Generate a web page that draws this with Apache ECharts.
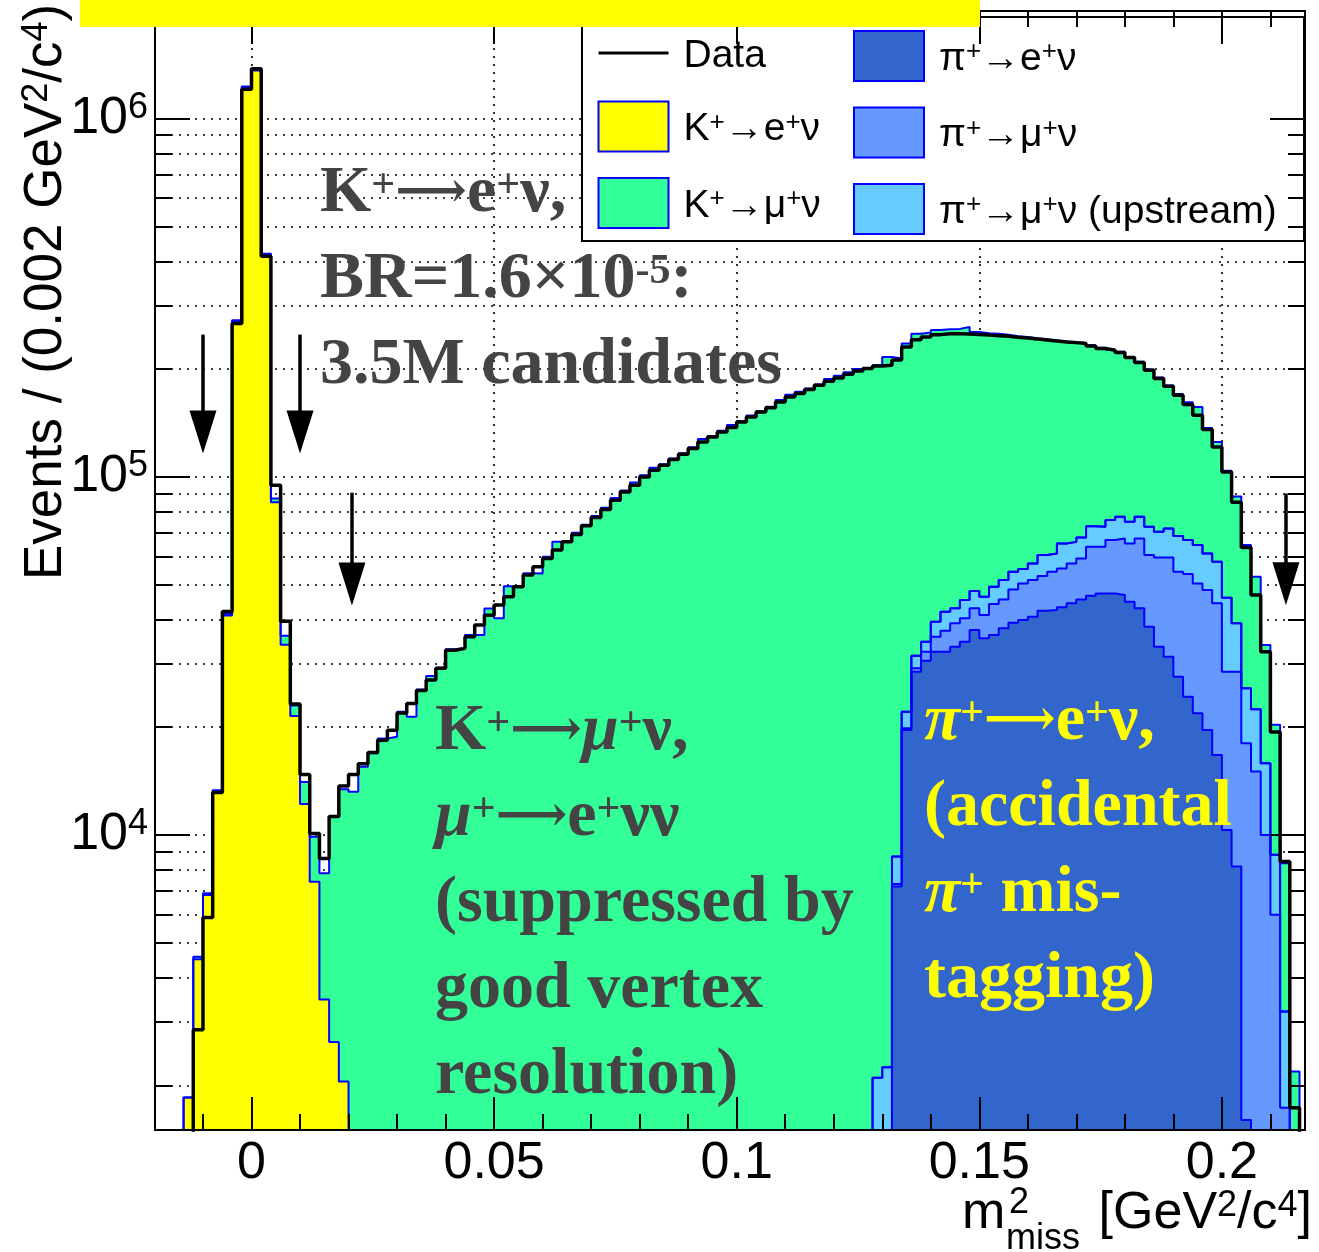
<!DOCTYPE html>
<html>
<head>
<meta charset="utf-8">
<title>m2 miss</title>
<script src="https://cdn.jsdelivr.net/npm/echarts@6/dist/echarts.min.js"></script>
<style>
html, body { margin: 0; padding: 0; background: #fff; }
#chart { width: 1319px; height: 1252px; }
</style>
</head>
<body>
<div id="chart"></div>
<script>
// binning: 115 bins of 0.002, first low edge at -0.014
const binStart = -0.014;
const binWidth = 0.002;

// axis ticks
const xMajorTicks = [0, 0.05, 0.1, 0.15, 0.2];
const xMinorTicks = [-0.01, 0.01, 0.02, 0.03, 0.04, 0.06, 0.07, 0.08, 0.09, 0.11, 0.12, 0.13, 0.14, 0.16, 0.17, 0.18, 0.19, 0.21];
const yMajorTicks = [1e4, 1e5, 1e6];
const yMinorTicks = [2000, 3000, 4000, 5000, 6000, 7000, 8000, 9000,
  20000, 30000, 40000, 50000, 60000, 70000, 80000, 90000,
  200000, 300000, 400000, 500000, 600000, 700000, 800000, 900000];

// events per bin
const dataCounts = [
  0, 2860, 5880, 13130, 42100, 268000, 1210000, 1380000, 413000, 94800,
  39500, 23200, 14750, 10100, 8590, 11260, 13700, 14750, 15800, 17000,
  18400, 19600, 21900, 23300, 25300, 27100, 29200, 32800, 33200, 35800,
  38600, 41100, 43900, 46300, 49300, 53200, 56100, 59200, 62500, 65900,
  69000, 73000, 77000, 81100, 86100, 90800, 94800, 100000, 104400, 107800,
  111800, 115700, 120000, 125200, 129300, 133500, 137300, 142400, 147000, 151800,
  156100, 161900, 167200, 170900, 175400, 180300, 184900, 188900, 193400, 197600,
  200700, 204000, 205000, 212000, 230500, 241700, 246000, 249600, 251200, 251000,
  250600, 250000, 248900, 247900, 246900, 245300, 244200, 242700, 241100, 239600,
  238100, 237100, 235600, 232000, 228200, 225700, 222400, 215300, 208500, 198500,
  188200, 179100, 169000, 159200, 148700, 135700, 121200, 103200, 84900, 63500,
  46800, 32500, 19400, 8430, 1730
];
const kEnu = [
  1850, 4500, 6800, 13200, 41000, 272000, 1225000, 1365000, 417000, 85000,
  34000, 21500, 12200, 7400, 3470, 2640, 2050, 0, 0, 0,
  0, 0, 0, 0, 0, 0, 0, 0, 0, 0,
  0, 0, 0, 0, 0, 0, 0, 0, 0, 0,
  0, 0, 0, 0, 0, 0, 0, 0, 0, 0,
  0, 0, 0, 0, 0, 0, 0, 0, 0, 0,
  0, 0, 0, 0, 0, 0, 0, 0, 0, 0,
  0, 0, 0, 0, 0, 0, 0, 0, 0, 0,
  0, 0, 0, 0, 0, 0, 0, 0, 0, 0,
  0, 0, 0, 0, 0, 0, 0, 0, 0, 0,
  0, 0, 0, 0, 0, 0, 0, 0, 0, 0,
  0, 0, 0, 0, 0
];
const kMunu = [
  0, 70, 80, 140, 400, 2000, 5000, 5000, 3000, 2000,
  2000, 1500, 1850, 2480, 4350, 8620, 11370, 13200, 15500, 16900,
  18600, 18800, 22100, 21400, 25500, 27800, 29300, 33000, 33300, 36200,
  36200, 42900, 40300, 49500, 49600, 53800, 53700, 59800, 65900, 66300,
  69800, 73500, 77800, 82000, 87300, 91600, 96500, 101000, 106000, 108500,
  112500, 116500, 121000, 127500, 130000, 134500, 139500, 143000, 148500, 152500,
  157000, 164000, 169500, 173000, 176500, 181000, 187500, 191500, 196000, 200000,
  201500, 202900, 213960, 205300, 213500, 219320, 218360, 217610, 216490, 216060,
  216810, 206010, 205740, 201670, 198000, 192680, 190730, 186670, 182030, 179360,
  173830, 172160, 168770, 160150, 156970, 150770, 146150, 141110, 132150, 126970,
  119260, 108220, 102170, 94900, 92320, 75860, 67280, 58040, 49110, 38820,
  30160, 18040, 11500, 5127, 1186
];
const piEnu = [
  0, 0, 0, 0, 0, 0, 0, 0, 0, 0,
  0, 0, 0, 0, 0, 0, 0, 0, 0, 0,
  0, 0, 0, 0, 0, 0, 0, 0, 0, 0,
  0, 0, 0, 0, 0, 0, 0, 0, 0, 0,
  0, 0, 0, 0, 0, 0, 0, 0, 0, 0,
  0, 0, 0, 0, 0, 0, 0, 0, 0, 0,
  0, 0, 0, 0, 0, 0, 0, 0, 0, 0,
  0, 0, 0, 7180, 19630, 28570, 30660, 32490, 32490, 33550,
  34640, 37350, 35410, 36170, 37760, 39140, 39830, 40690, 42280, 42470,
  43210, 44340, 45490, 46600, 47280, 47280, 46770, 44790, 42940, 38150,
  33550, 31470, 27670, 24330, 21870, 19630, 16730, 10330, 8163, 1600,
  0, 0, 0, 0, 0
];
const piMunu = [
  0, 0, 0, 0, 0, 0, 0, 0, 0, 0,
  0, 0, 0, 0, 0, 0, 0, 0, 0, 0,
  0, 0, 0, 0, 0, 0, 0, 0, 0, 0,
  0, 0, 0, 0, 0, 0, 0, 0, 0, 0,
  0, 0, 0, 0, 0, 0, 0, 0, 0, 0,
  0, 0, 0, 0, 0, 0, 0, 0, 0, 0,
  0, 0, 0, 0, 0, 0, 0, 0, 0, 0,
  0, 0, 0, 120, 230, 630, 1830, 3280, 4690, 5440,
  5620, 5590, 5720, 7970, 7730, 9370, 10590, 10810, 10560, 11850,
  12290, 12990, 13710, 17160, 16480, 19320, 20560, 20380, 24390, 22320,
  26030, 28110, 26650, 29190, 28550, 28670, 27610, 18240, 20410, 16430,
  15030, 10000, 5985, 1730, 0
];
const piMunuUp = [
  0, 0, 0, 0, 0, 0, 0, 0, 0, 0,
  0, 0, 0, 0, 0, 0, 0, 0, 0, 0,
  0, 0, 0, 0, 0, 0, 0, 0, 0, 0,
  0, 0, 0, 0, 0, 0, 0, 0, 0, 0,
  0, 0, 0, 0, 0, 0, 0, 0, 0, 0,
  0, 0, 0, 0, 0, 0, 0, 0, 0, 0,
  0, 0, 0, 0, 0, 0, 0, 0, 0, 0,
  0, 2100, 2244, 1406, 2240, 2480, 2150, 3620, 4830, 3950,
  5030, 5050, 5130, 5190, 6010, 5810, 4850, 5830, 7630, 6820,
  9670, 8510, 8530, 9090, 8770, 9130, 10020, 9720, 10020, 12060,
  10660, 12200, 14010, 13080, 14060, 12840, 13580, 17390, 10420, 7650,
  7410, 5860, 2815, 1483, 1000
];

// selection cut arrows: [x, top, tip]
const cutArrows = [
  [-0.01, 249700, 116200],
  [0.01, 249700, 116200],
  [0.0207, 90300, 43740],
  [0.2132, 89900, 43800]
];

// colours
const outline = '#0000ff';
const colKenu = '#ffff00';
const colKmunu = '#33ff99';
const colPienu = '#3366cc';
const colPimunu = '#6699ff';
const colPimunuUp = '#66ccff';

const xMin = -0.01989;
const xMax = 0.21713;
const yMin = 1500;
const yMax = 2e6;
const floorValue = 100; // below the axis, for empty bins

// THStack: each layer is drawn as the running sum
function stackSum(...layers) {
  return layers[0].map((_, i) => layers.reduce((s, l) => s + l[i], 0));
}
function stepPoints(counts) {
  const n = counts.length;
  const pts = [[binStart, floorValue]];
  counts.forEach((c, i) => pts.push([binStart + i * binWidth, c > 0 ? c : floorValue]));
  pts.push([binStart + n * binWidth, counts[n - 1] > 0 ? counts[n - 1] : floorValue]);
  pts.push([binStart + n * binWidth, floorValue]);
  return pts;
}

const topPiEnu = piEnu;
const topPiMunu = stackSum(piEnu, piMunu);
const topPiUp = stackSum(piEnu, piMunu, piMunuUp);
const topKenu = stackSum(piEnu, piMunu, piMunuUp, kEnu);
const topKmunu = stackSum(piEnu, piMunu, piMunuUp, kEnu, kMunu);

function layer(name, color, counts) {
  return {
    name: name,
    type: 'line',
    step: 'end',
    data: stepPoints(counts),
    symbol: 'none',
    showSymbol: false,
    silent: true,
    color: color,
    lineStyle: { color: outline, width: 2 },
    areaStyle: { color: color, opacity: 1 },
    emphasis: { disabled: true },
    z: 2
  };
}

const sansFont = "'Liberation Sans', Arial, sans-serif";
const serifFont = "'Liberation Serif', 'DejaVu Serif', serif";

const legendRich = {
  sup: { fontSize: 26, fontFamily: sansFont, color: '#000', verticalAlign: 'top' }
};
const legendName = name => name.replace(/\+/g, '{sup|+}');
const legendCommon = {
  orient: 'vertical',
  top: 30,
  itemWidth: 70,
  itemHeight: 50,
  itemGap: 24.5,
  padding: 0,
  selectedMode: false,
  z: 6,
  formatter: legendName,
  textStyle: { fontSize: 39, fontFamily: sansFont, color: '#000', lineHeight: 40, padding: [6, 0, 0, 10], rich: legendRich }
};
const boxItem = (name, color) => ({ name: name, icon: 'rect', itemStyle: { color: color, borderColor: outline, borderWidth: 2 } });

const chart = echarts.init(document.getElementById('chart'), null, { renderer: 'canvas' });

const xAxisBase = { type: 'value', min: xMin, max: xMax, gridIndex: 0, z: 10, splitLine: { show: false } };
const yAxisBase = { type: 'log', logBase: 10, min: yMin, max: yMax, gridIndex: 0, z: 10, splitLine: { show: false } };
const tickLine = { color: '#000', width: 2 };

// superscripts and arrows for the serif annotations
const serifRich = (fill) => ({
  s: { fontSize: 42, fontWeight: 'bold', fontFamily: serifFont, fill: fill, height: 70, verticalAlign: 'top' },
  a: { fontSize: 50, fontWeight: 'bold', fontFamily: serifFont, fill: fill },
  i: { fontSize: 66, fontWeight: 'bold', fontStyle: 'italic', fontFamily: serifFont, fill: fill }
});
const serifStyle = (text, fill) => ({
  text: text, fontSize: 66, fontWeight: 'bold', fontFamily: serifFont, fill: fill, lineHeight: 86,
  align: 'left', verticalAlign: 'top', rich: serifRich(fill)
});

const option = {
  animation: false,
  backgroundColor: '#fff',
  grid: { left: 155, right: 14, top: 11, bottom: 122 },
  xAxis: [
    Object.assign({}, xAxisBase, {
      position: 'bottom',
      axisLine: { show: true, onZero: false, lineStyle: tickLine },
      axisTick: { show: true, inside: true, length: 33, customValues: xMajorTicks, lineStyle: tickLine },
      axisLabel: {
        show: true, customValues: xMajorTicks, margin: 8, color: '#000',
        fontSize: 52, fontFamily: sansFont,
        formatter: v => String(Math.round(v * 100) / 100)
      }
    }),
    Object.assign({}, xAxisBase, {
      position: 'bottom',
      axisLine: { show: false, onZero: false },
      axisTick: { show: true, inside: true, length: 16, customValues: xMinorTicks, lineStyle: tickLine },
      axisLabel: { show: false }
    }),
    Object.assign({}, xAxisBase, {
      position: 'top',
      axisLine: { show: true, onZero: false, lineStyle: tickLine },
      axisTick: { show: true, inside: true, length: 33, customValues: xMajorTicks, lineStyle: tickLine },
      axisLabel: { show: false }
    }),
    Object.assign({}, xAxisBase, {
      position: 'top',
      axisLine: { show: false, onZero: false },
      axisTick: { show: true, inside: true, length: 16, customValues: xMinorTicks, lineStyle: tickLine },
      axisLabel: { show: false }
    })
  ],
  yAxis: [
    Object.assign({}, yAxisBase, {
      position: 'left',
      axisLine: { show: true, onZero: false, lineStyle: tickLine },
      axisTick: { show: true, inside: true, length: 35, customValues: yMajorTicks, lineStyle: tickLine },
      axisLabel: {
        show: true, customValues: yMajorTicks, margin: 7,
        formatter: v => '{b|10}{s|' + Math.round(Math.log10(v)) + '}',
        rich: {
          b: { fontSize: 52, fontFamily: sansFont, color: '#000', lineHeight: 58 },
          s: { fontSize: 36, fontFamily: sansFont, color: '#000', lineHeight: 44, verticalAlign: 'top' }
        }
      }
    }),
    Object.assign({}, yAxisBase, {
      position: 'left',
      axisLine: { show: false, onZero: false },
      axisTick: { show: true, inside: true, length: 17, customValues: yMinorTicks, lineStyle: tickLine },
      axisLabel: { show: false }
    }),
    Object.assign({}, yAxisBase, {
      position: 'right',
      axisLine: { show: true, onZero: false, lineStyle: tickLine },
      axisTick: { show: true, inside: true, length: 35, customValues: yMajorTicks, lineStyle: tickLine },
      axisLabel: { show: false }
    }),
    Object.assign({}, yAxisBase, {
      position: 'right',
      axisLine: { show: false, onZero: false },
      axisTick: { show: true, inside: true, length: 17, customValues: yMinorTicks, lineStyle: tickLine },
      axisLabel: { show: false }
    })
  ],
  legend: [
    Object.assign({}, legendCommon, {
      left: 597,
      data: [
        { name: 'Data', itemStyle: { color: 'rgba(0,0,0,0)', borderWidth: 0 }, lineStyle: { color: '#000', width: 3 } },
        boxItem('K+→e+ν', colKenu),
        boxItem('K+→μ+ν', colKmunu)
      ]
    }),
    Object.assign({}, legendCommon, {
      left: 853,
      data: [
        boxItem('π+→e+ν', colPienu),
        boxItem('π+→μ+ν', colPimunu),
        boxItem('π+→μ+ν (upstream)', colPimunuUp)
      ]
    })
  ],
  series: [
    layer('K+→μ+ν', colKmunu, topKmunu),
    layer('K+→e+ν', colKenu, topKenu),
    layer('π+→μ+ν (upstream)', colPimunuUp, topPiUp),
    layer('π+→μ+ν', colPimunu, topPiMunu),
    layer('π+→e+ν', colPienu, topPiEnu),
    {
      name: 'Data',
      type: 'line',
      step: 'end',
      data: stepPoints(dataCounts),
      symbol: 'none',
      showSymbol: false,
      silent: true,
      color: '#000',
      lineStyle: { color: '#000', width: 3.5 },
      emphasis: { disabled: true },
      z: 3,
      markLine: {
        silent: true,
        z: 1,
        symbol: ['none', 'none'],
        label: { show: false },
        lineStyle: { color: '#000', type: [2, 6], width: 1.6 },
        emphasis: { disabled: true },
        data: yMinorTicks.concat(yMajorTicks).map(v => ({ yAxis: v }))
          .concat(xMajorTicks.map(v => ({ xAxis: v })))
      }
    },
    {
      name: 'cuts',
      type: 'scatter',
      silent: true,
      data: cutArrows.map(a => [a[0], a[2]]),
      symbol: 'path://M0,0 L26,0 L13,42 Z',
      symbolSize: [27, 43],
      symbolOffset: [0, '-50%'],
      itemStyle: { color: '#000', opacity: 1 },
      z: 5,
      markLine: {
        silent: true,
        z: 5,
        symbol: ['none', 'none'],
        label: { show: false },
        lineStyle: { color: '#000', type: 'solid', width: 3.5, opacity: 1 },
        emphasis: { disabled: true },
        data: cutArrows.map(a => [{ coord: [a[0], a[1]] }, { coord: [a[0], a[2] * 1.25] }])
      }
    }
  ],
  graphic: [
    // legend frame
    { type: 'rect', z: 5, shape: { x: 582, y: 17, width: 722, height: 224 },
      style: { fill: '#fff', stroke: '#000', lineWidth: 2 } },
    // banner strip from the slide
    { type: 'rect', z: 20, shape: { x: 80, y: 0, width: 900, height: 27 }, style: { fill: '#ffff00' } },
    // y axis title
    { type: 'text', z: 8, x: 46, y: 580, rotation: Math.PI / 2,
      style: {
        text: 'Events / (0.002 GeV{s|2}/c{s|4})',
        fontSize: 53, fontFamily: sansFont, fill: '#000', align: 'left', verticalAlign: 'middle',
        rich: { s: { fontSize: 36, fontFamily: sansFont, fill: '#000', lineHeight: 40, verticalAlign: 'top' } }
      } },
    // x axis title
    { type: 'text', z: 8, x: 962, y: 1214,
      style: { text: 'm', fontSize: 52, fontFamily: sansFont, fill: '#000', align: 'left', verticalAlign: 'middle' } },
    { type: 'text', z: 8, x: 1009, y: 1203,
      style: { text: '2', fontSize: 36, fontFamily: sansFont, fill: '#000', align: 'left', verticalAlign: 'middle' } },
    { type: 'text', z: 8, x: 1006, y: 1239,
      style: { text: 'miss', fontSize: 36, fontFamily: sansFont, fill: '#000', align: 'left', verticalAlign: 'middle' } },
    { type: 'text', z: 8, x: 1312, y: 1214,
      style: {
        text: '[GeV{s|2}/c{s|4}]', fontSize: 52, fontFamily: sansFont, fill: '#000', align: 'right', verticalAlign: 'middle',
        rich: { s: { fontSize: 36, fontFamily: sansFont, fill: '#000', lineHeight: 36, verticalAlign: 'top' } }
      } },
    // annotations
    { type: 'text', z: 6, x: 320, y: 151,
      style: serifStyle('K{s|+}{a|⟶}e{s|+}ν,\nBR=1.6×10{s|-5}:\n3.5M candidates', '#444') },
    { type: 'text', z: 6, x: 435, y: 689,
      style: serifStyle('K{s|+}{a|⟶}{i|μ}{s|+}ν,\n{i|μ}{s|+}{a|⟶}e{s|+}νν\n(suppressed by\ngood vertex\nresolution)', '#444') },
    { type: 'text', z: 6, x: 924, y: 679,
      style: serifStyle('{i|π}{s|+}{a|⟶}e{s|+}ν,\n(accidental\n{i|π}{s|+} mis-\ntagging)', '#ffff00') }
  ]
};

chart.setOption(option);
window.addEventListener('resize', () => chart.resize());
</script>
</body>
</html>
